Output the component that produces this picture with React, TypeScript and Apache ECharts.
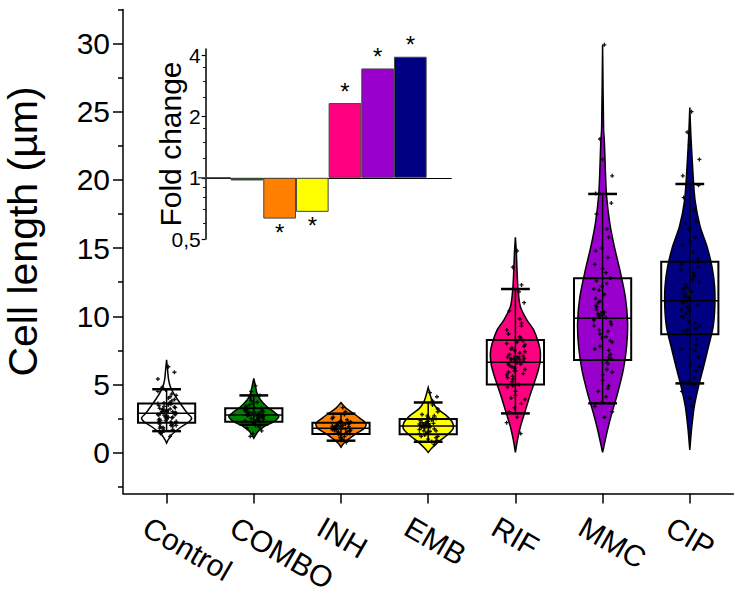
import React, { useEffect, useRef } from 'react';
import * as echarts from 'echarts';

// ---------- data ----------
const CATEGORIES = ['Control', 'COMBO', 'INH', 'EMB', 'RIF', 'MMC', 'CIP'];

const Q1 = [2.2, 2.27, 1.37, 1.35, 5.0, 6.8, 8.68];
const MEDIAN = [2.89, 2.76, 1.8, 1.95, 6.63, 9.85, 11.14];
const Q3 = [3.6, 3.26, 2.2, 2.47, 8.26, 12.78, 14.0];
const WHISKER_LOW = [1.58, 2.05, 0.88, 0.8, 2.88, 3.62, 5.08];
const WHISKER_HIGH = [4.65, 4.2, 2.86, 3.68, 12.0, 18.97, 19.7];
const MEAN = [3.0, 2.85, 1.85, 2.0, 6.94, 10.2, 11.7];

// violin outlines: [value, relative density width]
const VIOLIN_CONTROL = [[6.8, 0], [6.06, 0.04], [5.33, 0.08], [4.84, 0.15], [4.35, 0.28], [3.86, 0.45], [3.37, 0.64], [2.89, 0.83], [2.55, 1], [2.27, 0.9], [1.79, 0.51], [1.3, 0.19], [0.93, 0.06], [0.7, 0]];
const VIOLIN_COMBO = [[5.45, 0], [4.84, 0.07], [4.35, 0.13], [3.86, 0.27], [3.37, 0.53], [2.89, 0.87], [2.64, 1], [2.27, 0.8], [1.9, 0.4], [1.54, 0.16], [1.05, 0]];
const VIOLIN_INH = [[3.67, 0], [3.25, 0.21], [2.89, 0.49], [2.52, 0.76], [2.15, 1], [1.79, 0.94], [1.42, 0.62], [1.06, 0.35], [0.69, 0.11], [0.4, 0]];
const VIOLIN_EMB = [[4.79, 0], [4.23, 0.08], [3.74, 0.17], [3.25, 0.35], [2.76, 0.7], [2.27, 0.95], [1.79, 1], [1.3, 0.76], [0.81, 0.42], [0.32, 0.14], [0.02, 0]];
const VIOLIN_RIF = [[15.8, 0], [14.6, 0.04], [13.15, 0.07], [11.9, 0.11], [10.7, 0.2], [9.7, 0.47], [9.0, 0.73], [8.0, 0.93], [7.3, 1], [6.5, 0.97], [5.6, 0.84], [4.35, 0.61], [3.1, 0.4], [1.9, 0.2], [0.9, 0.08], [0.02, 0]];
const VIOLIN_MMC = [[29.9, 0], [23.7, 0.04], [22.9, 0.07], [20.7, 0.11], [18.8, 0.16], [16.8, 0.29], [15.1, 0.47], [13.4, 0.69], [11.4, 0.91], [9.5, 1], [7.8, 0.96], [6.1, 0.83], [4.35, 0.6], [2.9, 0.37], [1.7, 0.2], [0.7, 0.08], [0.02, 0]];
const VIOLIN_CIP = [[25.3, 0], [23.4, 0.04], [21.0, 0.11], [18.5, 0.21], [16.6, 0.41], [15.1, 0.69], [13.6, 0.89], [12.2, 0.99], [10.7, 1], [9.2, 0.93], [7.8, 0.75], [6.3, 0.55], [4.8, 0.34], [3.4, 0.18], [1.9, 0.08], [0.2, 0]];
const VIOLINS = [VIOLIN_CONTROL, VIOLIN_COMBO, VIOLIN_INH, VIOLIN_EMB, VIOLIN_RIF, VIOLIN_MMC, VIOLIN_CIP];

// individual cells (estimated)
const PTS_CONTROL = [6.3, 2.9, 5.9, 3.4, 2.2, 5.4, 3.1, 2.6, 4.8, 2.0, 4.6, 3.7, 2.45, 4.3, 1.85, 3.3, 2.75, 4.0, 2.35, 3.9, 1.6, 3.55, 2.8, 2.5, 3.0, 1.5, 4.2, 2.65, 3.2, 2.1, 3.8, 1.75, 2.95, 2.4, 3.5, 1.4, 2.85, 3.65, 2.25, 4.5, 2.7, 1.95, 3.15, 2.3, 2.55, 1.2, 3.25, 2.05, 3.05, 2.15, 3.45, 2.6, 1.9, 3.35, 2.75, 2.0, 3.6, 2.45, 1.7, 3.0, 2.9, 2.35, 4.1, 1.8, 2.55, 3.2, 2.8, 2.25];
const PTS_COMBO = [4.9, 2.8, 3.3, 4.5, 2.5, 3.1, 2.2, 4.2, 2.95, 2.65, 3.6, 2.4, 3.0, 1.9, 4.0, 2.75, 3.4, 2.3, 2.85, 1.6, 3.8, 2.55, 3.2, 2.1, 2.9, 3.5, 2.45, 1.4, 2.7, 3.15, 2.35, 1.2, 2.6, 3.05, 2.0, 2.7, 3.1, 2.5, 2.9, 2.35, 3.3, 2.6, 2.8, 3.0, 2.2, 3.7, 1.8];
const PTS_INH = [3.3, 1.8, 2.1, 1.5, 3.0, 1.95, 1.3, 2.4, 1.7, 2.25, 1.1, 2.8, 1.85, 1.45, 2.05, 1.6, 2.6, 1.0, 1.9, 2.2, 1.35, 1.75, 2.5, 0.9, 1.55, 2.0, 1.65, 2.3, 1.2, 1.82, 0.75, 2.15, 1.4, 1.8, 2.0, 1.6, 1.9, 1.5, 2.1, 1.7, 2.3, 1.4, 1.95];
const PTS_EMB = [4.4, 1.9, 2.5, 1.4, 3.8, 2.1, 1.0, 2.7, 1.6, 3.2, 2.3, 0.8, 1.85, 2.45, 1.3, 4.1, 2.0, 1.55, 2.8, 1.1, 2.2, 3.5, 1.7, 2.6, 0.6, 1.95, 3.0, 1.5, 2.4, 1.2, 2.15, 1.8, 0.9, 2.35, 1.9, 2.2, 1.6, 2.0, 2.5, 1.4, 2.3, 1.75, 2.1, 1.2, 2.7];
const PTS_RIF = [14.8, 7.2, 5.8, 13.6, 6.8, 9.0, 4.5, 12.3, 7.6, 6.1, 3.3, 11.8, 6.5, 8.4, 5.2, 11.0, 7.0, 2.6, 10.4, 6.7, 5.6, 9.8, 8.0, 4.2, 9.3, 6.9, 3.9, 7.5, 5.0, 8.7, 1.4, 6.3, 7.8, 4.8, 6.6, 3.0, 8.2, 5.4, 7.3, 2.2, 6.0, 3.6, 6.8, 7.4, 6.2, 7.0, 5.9, 6.5, 7.7, 6.9, 5.5, 8.1, 6.4, 7.1, 4.9, 8.5, 5.7, 6.7, 9.5, 4.0, 7.9, 6.0];
const PTS_MMC = [29.9, 10.5, 7.2, 23.0, 12.4, 9.3, 21.5, 4.9, 11.0, 20.3, 8.4, 13.2, 19.0, 6.5, 10.0, 18.3, 3.4, 11.6, 17.5, 9.6, 7.8, 16.4, 12.0, 5.7, 15.8, 10.2, 8.1, 15.0, 4.1, 11.3, 14.3, 9.0, 6.9, 13.8, 2.6, 10.7, 12.8, 8.7, 6.1, 9.8, 5.3, 7.5, 4.5, 3.0, 3.7, 9.9, 10.8, 8.9, 11.9, 9.4, 7.6, 10.3, 12.6, 8.2, 11.1, 6.6, 9.7, 13.5, 7.0, 10.1, 5.9, 12.2, 8.5, 14.8, 4.7];
const PTS_CIP = [25.0, 11.7, 8.3, 23.5, 13.0, 10.5, 22.6, 6.0, 12.3, 21.5, 9.6, 14.7, 20.3, 7.5, 11.1, 19.6, 4.5, 12.7, 18.7, 10.8, 8.7, 17.8, 13.4, 6.5, 17.0, 11.4, 9.3, 16.4, 5.0, 12.0, 15.8, 10.2, 7.0, 15.2, 3.4, 9.9, 14.2, 9.0, 5.5, 13.8, 4.0, 7.9, 11.5, 12.5, 10.4, 13.2, 11.0, 9.5, 12.1, 14.0, 10.0, 11.8, 8.9, 13.6, 10.7, 12.9, 7.6, 15.5, 9.1, 16.8, 6.3, 11.3];
const POINTS = [PTS_CONTROL, PTS_COMBO, PTS_INH, PTS_EMB, PTS_RIF, PTS_MMC, PTS_CIP];

// inset: fold change of mean cell length vs Control
const FOLD_CHANGE = [1, 0.97, 0.63, 0.68, 2.33, 3.45, 3.94];
const SIGNIFICANT = [false, false, true, true, true, true, true];

const Y_MAJOR = [0, 5, 10, 15, 20, 25, 30];
const Y_MINOR = [-2.5, 2.5, 7.5, 12.5, 17.5, 22.5, 27.5, 32.5];
const INSET_MAJOR = [0.5, 1, 2, 4];
const INSET_MINOR = [0.6, 0.7, 0.8, 0.9, 1.25, 1.5, 1.75, 2.5, 3, 3.5];

// ---------- style ----------
const COLORS = ['#FFFFFF', '#008000', '#FF8000', '#FFFF00', '#FF0080', '#9900CC', '#000080'];
const JITTER = [0.02, -0.07, 0.09, -0.03, 0.05, -0.1, 0.0, 0.07, -0.05, 0.11, -0.01, 0.04, -0.08, 0.06, -0.04, 0.1, -0.09];
const FONT = "'Liberation Sans', Arial, Helvetica, sans-serif";
const VIOLIN_HALF = 0.287;
const BOX_HALF = 0.328;
const CAP_HALF = 0.165;
const LABEL_DX = -21;

const renderViolin = (params: any, api: any) => {
  const i = api.value(0);
  const band = api.size([1, 0])[0];
  const cx = api.coord([i, 0])[0];
  const y = (v: number) => api.coord([i, v])[1];
  const q1 = api.value(1), med = api.value(2), q3 = api.value(3);
  const lo = api.value(4), hi = api.value(5), mean = api.value(6);
  const shape = VIOLINS[i];
  const vh = band * VIOLIN_HALF;
  const pts: number[][] = [];
  shape.forEach(([v, w]) => pts.push([cx + w * vh, y(v)]));
  for (let k = shape.length - 1; k >= 0; k--) pts.push([cx - shape[k][1] * vh, y(shape[k][0])]);
  const bw = band * BOX_HALF;
  const cw = band * CAP_HALF;
  const black = { stroke: '#000', fill: 'none' };
  return {
    type: 'group',
    children: [
      { type: 'polygon', shape: { points: pts, smooth: 0.3 }, style: { fill: COLORS[i], stroke: '#000', lineWidth: 1.5 } },
      { type: 'line', shape: { x1: cx, y1: y(lo), x2: cx, y2: y(hi) }, style: { ...black, lineWidth: 1.5 } },
      { type: 'rect', shape: { x: cx - bw, y: y(q3), width: 2 * bw, height: y(q1) - y(q3) }, style: { ...black, lineWidth: 2 } },
      { type: 'line', shape: { x1: cx - bw, y1: y(med), x2: cx + bw, y2: y(med) }, style: { ...black, lineWidth: 1.5 } },
      { type: 'line', shape: { x1: cx - cw, y1: y(hi), x2: cx + cw, y2: y(hi) }, style: { ...black, lineWidth: 2.5 } },
      { type: 'line', shape: { x1: cx - cw, y1: y(lo), x2: cx + cw, y2: y(lo) }, style: { ...black, lineWidth: 2.5 } },
      { type: 'rect', shape: { x: cx - 2.5, y: y(mean) - 2.5, width: 5, height: 5 }, style: { fill: '#111', stroke: 'none' }, z2: 10 },
    ],
  };
};

export default function App() {
  const ref = useRef<HTMLDivElement>(null);
  useEffect(() => {
    if (!ref.current) return;
    const chart = echarts.init(ref.current, undefined, { renderer: 'svg' });

    const violinData = CATEGORIES.map((_, i) => [i, Q1[i], MEDIAN[i], Q3[i], WHISKER_LOW[i], WHISKER_HIGH[i], MEAN[i]]);
    const pointData: number[][] = [];
    POINTS.forEach((arr, i) => arr.forEach((v, j) => pointData.push([i + JITTER[j % JITTER.length], v])));

    const gridTop = 9.4;
    const gridBottom = 102.4;
    const gridLeft = 123;
    const gridRight = 1.6;

    chart.setOption({
      animation: false,
      backgroundColor: '#fff',
      textStyle: { fontFamily: FONT },
      grid: [
        { left: gridLeft, right: gridRight, top: gridTop, bottom: gridBottom, outerBoundsMode: 'none', containLabel: false },
        { left: gridLeft + LABEL_DX, right: gridRight - LABEL_DX, top: gridTop, bottom: gridBottom, outerBoundsMode: 'none', containLabel: false },
        { left: 205.7, top: 49, width: 246, height: 190, outerBoundsMode: 'none', containLabel: false },
      ],
      xAxis: [
        {
          gridIndex: 0, type: 'category', data: CATEGORIES, boundaryGap: true, position: 'bottom',
          axisLine: { show: true, onZero: false, lineStyle: { color: '#000', width: 1.5 } },
          axisTick: { show: true, alignWithLabel: true, length: 10, lineStyle: { color: '#000', width: 1.5 } },
          axisLabel: { show: false },
          splitLine: { show: false },
        },
        {
          gridIndex: 1, type: 'category', data: CATEGORIES, boundaryGap: true, position: 'bottom',
          axisLine: { show: false, onZero: false }, axisTick: { show: false }, splitLine: { show: false },
          axisLabel: { show: true, interval: 0, rotate: -30, margin: 31, fontSize: 30, lineHeight: 30, color: '#000', fontFamily: FONT },
        },
        { gridIndex: 0, type: 'value', min: -0.5, max: 6.5, show: false, axisLine: { onZero: false } },
        { gridIndex: 2, type: 'value', min: -0.263, max: 7.267, show: false, axisLine: { onZero: false } },
      ],
      yAxis: [
        {
          gridIndex: 0, type: 'value', min: -3, max: 32.5, position: 'left',
          axisLine: { show: true, onZero: false, lineStyle: { color: '#000', width: 1.5 } },
          axisTick: { show: true, customValues: Y_MAJOR, length: 10, lineStyle: { color: '#000', width: 1.5 } },
          axisLabel: { show: true, customValues: Y_MAJOR, fontSize: 30, color: '#000', margin: 13, fontFamily: FONT },
          splitLine: { show: false },
          name: 'Cell length (µm)', nameLocation: 'middle', nameGap: 83, nameMoveOverlap: false,
          nameTextStyle: { fontSize: 41, lineHeight: 34, color: '#000', fontFamily: FONT, padding: [0, 0, 0, 40] },
        },
        {
          gridIndex: 0, type: 'value', min: -3, max: 32.5, position: 'left',
          axisLine: { show: false, onZero: false },
          axisTick: { show: true, customValues: Y_MINOR, length: 5, lineStyle: { color: '#000', width: 1.5 } },
          axisLabel: { show: false }, splitLine: { show: false },
        },
        { gridIndex: 1, type: 'value', min: -3, max: 32.5, show: false, axisLine: { onZero: false } },
        {
          gridIndex: 2, type: 'log', logBase: 2, min: 0.5, max: 4.3, position: 'left',
          axisLine: { show: true, onZero: false, lineStyle: { color: '#000', width: 1.5 } },
          axisTick: { show: true, customValues: INSET_MAJOR, length: 4, lineStyle: { color: '#000', width: 1.2 } },
          axisLabel: {
            show: true, customValues: INSET_MAJOR, fontSize: 21, color: '#000', margin: 5, fontFamily: FONT,
            formatter: (v: number) => String(v).replace('.', ','),
          },
          splitLine: { show: false },
          name: 'Fold change', nameLocation: 'middle', nameGap: 20, nameMoveOverlap: false,
          nameTextStyle: { fontSize: 30, color: '#000', fontFamily: FONT },
        },
        {
          gridIndex: 2, type: 'log', logBase: 2, min: 0.5, max: 4.3, position: 'left',
          axisLine: { show: false, onZero: false },
          axisTick: { show: true, customValues: INSET_MINOR, length: 2.5, lineStyle: { color: '#000', width: 1 } },
          axisLabel: { show: false }, splitLine: { show: false },
        },
      ],
      series: [
        {
          type: 'custom', name: 'violins', xAxisIndex: 0, yAxisIndex: 0,
          data: violinData, encode: { x: 0, y: 1 }, renderItem: renderViolin, clip: false, z: 2,
        },
        {
          type: 'scatter', name: 'cells', xAxisIndex: 2, yAxisIndex: 0, data: pointData,
          symbol: 'path://M2,0H4V2H6V4H4V6H2V4H0V2H2Z', symbolSize: 4,
          itemStyle: { color: '#000', opacity: 0.9 }, z: 3, silent: true,
        },
        {
          type: 'bar', name: 'fold', xAxisIndex: 3, yAxisIndex: 3, barWidth: 32.67,
          data: FOLD_CHANGE.map((v, k) => ({
            value: [k, v],
            itemStyle: { color: COLORS[k], borderColor: '#444', borderWidth: 1 },
            label: {
              show: SIGNIFICANT[k], position: v >= 1 ? 'top' : 'bottom', distance: v >= 1 ? 0 : 2,
              formatter: '*', fontSize: 24, color: '#000', fontFamily: FONT,
            },
          })),
          markLine: {
            silent: true, symbol: 'none', label: { show: false },
            lineStyle: { color: '#000', width: 1.2, type: 'solid' },
            data: [{ yAxis: 1 }],
          },
          z: 5,
        },
      ],
    });
    return () => chart.dispose();
  }, []);
  return <div ref={ref} style={{ position: 'absolute', left: 0, top: 0, width: 735, height: 596 }} />;
}
